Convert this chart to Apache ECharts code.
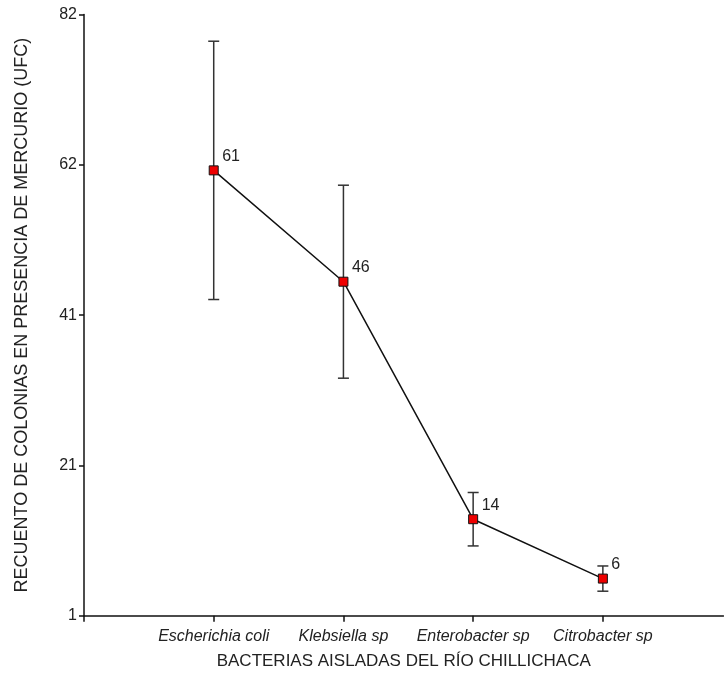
<!DOCTYPE html>
<html>
<head>
<meta charset="utf-8">
<script src="https://cdn.jsdelivr.net/npm/echarts@6/dist/echarts.min.js"></script>
<style>
  html, body { margin: 0; padding: 0; background: #fff; }
  #chart { width: 724px; height: 673px; }
</style>
</head>
<body>
<div id="chart"></div>
<script>
// Bacteria isolated from the river and their colony counts with mercury
const categories = ['Escherichia coli', 'Klebsiella sp', 'Enterobacter sp', 'Citrobacter sp'];
const means = [61, 46, 14, 6];
const errors = [17.4, 13.0, 3.6, 1.7];
const yTickLabels = ['1', '21', '41', '62', '82'];

const FONT = "'Liberation Sans', Arial, sans-serif";
const TEXT = '#222';

const positions = categories.map((c, i) => i + 1);
const points = means.map((v, i) => [positions[i], v]);
const bars = means.map((v, i) => [positions[i], v - errors[i], v + errors[i]]);

const chart = echarts.init(document.getElementById('chart'), null, { renderer: 'canvas' });

chart.setOption({
  animation: false,
  backgroundColor: '#fff',
  grid: {
    left: 84, top: 14.5, width: 639.5, height: 601.2,
    containLabel: false, outerBoundsMode: 'none'
  },
  xAxis: {
    type: 'value',
    min: 0,
    max: 4.93,
    interval: 1,
    name: 'BACTERIAS AISLADAS DEL RÍO CHILLICHACA',
    nameLocation: 'middle',
    nameGap: 37,
    nameTextStyle: { fontFamily: FONT, fontSize: 17, color: TEXT },
    axisLine: { show: true, onZero: false, lineStyle: { color: '#111', width: 1.5 } },
    axisTick: {
      show: true, inside: false, length: 6,
      customValues: [0].concat(positions),
      lineStyle: { color: '#111', width: 1.5 }
    },
    axisLabel: {
      margin: 13,
      fontFamily: FONT,
      fontSize: 16,
      fontStyle: 'italic',
      color: TEXT,
      customValues: positions,
      formatter: v => categories[Math.round(v) - 1] || ''
    },
    splitLine: { show: false }
  },
  yAxis: {
    type: 'value',
    min: 1,
    max: 82,
    interval: 20.25,
    name: 'RECUENTO DE COLONIAS EN PRESENCIA DE MERCURIO (UFC)',
    nameLocation: 'middle',
    nameRotate: 90,
    nameGap: 53,
    nameTextStyle: { fontFamily: FONT, fontSize: 18, color: TEXT },
    axisLine: { show: true, onZero: false, lineStyle: { color: '#111', width: 1.5 } },
    axisTick: { show: true, inside: false, length: 5, lineStyle: { color: '#111', width: 1.5 } },
    axisLabel: {
      margin: 7,
      fontFamily: FONT,
      fontSize: 16,
      color: TEXT,
      formatter: (v, i) => yTickLabels[i]
    },
    splitLine: { show: false }
  },
  series: [
    {
      // standard deviation whiskers
      type: 'custom',
      z: 1,
      data: bars,
      renderItem: function (params, api) {
        const x = api.value(0);
        const lo = api.coord([x, api.value(1)]);
        const hi = api.coord([x, api.value(2)]);
        const cap = 5.5;
        const style = { stroke: '#333', lineWidth: 1.5, fill: null };
        return {
          type: 'group',
          children: [
            { type: 'line', shape: { x1: hi[0], y1: hi[1], x2: lo[0], y2: lo[1] }, style },
            { type: 'line', shape: { x1: hi[0] - cap, y1: hi[1], x2: hi[0] + cap, y2: hi[1] }, style },
            { type: 'line', shape: { x1: lo[0] - cap, y1: lo[1], x2: lo[0] + cap, y2: lo[1] }, style }
          ]
        };
      }
    },
    {
      type: 'line',
      z: 3,
      data: points,
      symbol: 'rect',
      symbolSize: 9,
      lineStyle: { color: '#111', width: 1.5 },
      itemStyle: { color: '#ee0000', borderColor: '#111', borderWidth: 1 },
      label: {
        show: true,
        position: 'right',
        distance: 5,
        offset: [-1.5, -14],
        fontFamily: FONT,
        fontSize: 16,
        color: TEXT,
        formatter: p => String(p.value[1])
      }
    }
  ]
});
</script>
</body>
</html>
